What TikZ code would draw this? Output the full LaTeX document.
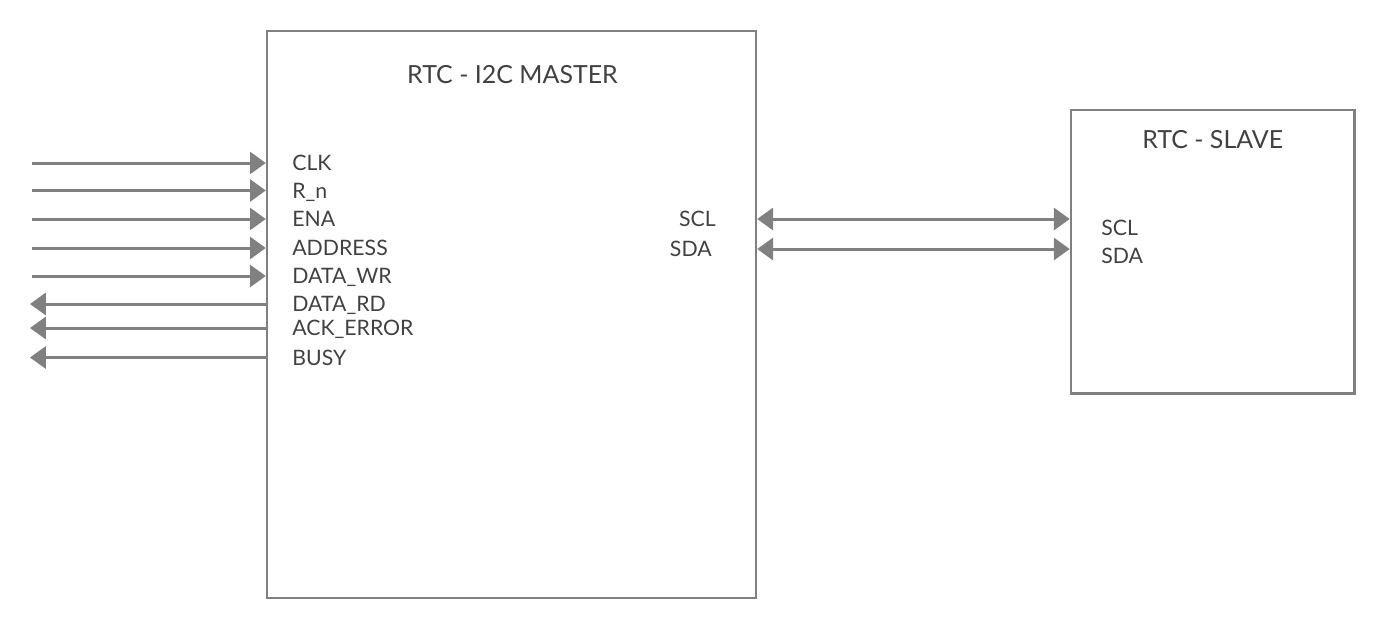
\documentclass[tikz,border=0pt]{standalone}
\usepackage{fontspec}
\setmainfont{Lato}
\usetikzlibrary{arrows.meta,positioning}

\definecolor{linegray}{HTML}{808080}
\definecolor{textgray}{HTML}{414141}

\tikzset{
  block/.style={draw=linegray, line width=1.4pt, inner sep=0pt},
  title/.style={text=textgray, font=\fontsize{14.2}{16}\selectfont, inner sep=0pt},
  pin/.style={text=textgray, font=\fontsize{12.1}{14}\selectfont, inner sep=0pt, text height=8.7pt, text depth=0pt},
  sig/.style={draw=linegray, line width=1.7pt, -{Triangle[length=9pt,width=12.5pt]}},
  bus/.style={draw=linegray, line width=1.7pt, {Triangle[length=9pt,width=12.5pt]}-{Triangle[length=9pt,width=12.5pt]}}
}

\begin{document}
\begin{tikzpicture}[x=0.02cm, y=-0.02cm]
  \useasboundingbox (0,0) rectangle (1386,630);

  % the two blocks
  \node[block, minimum width=9.78cm, minimum height=11.34cm] (master) at (511.5,314.5) {};
  \node[block, minimum width=5.67cm, minimum height=5.67cm] (slave) at (1212.7,251.7) {};
  \node[title] (master-title) at (512.5,75) {RTC - I2C MASTER};
  \node[title] (slave-title) at (1212.7,140) {RTC - SLAVE};

  % inputs of the master
  \foreach \name/\txt/\y in {clk/CLK/163, rn/R\_n/190.5, ena/ENA/219, addr/ADDRESS/248, wr/DATA\_WR/276} {
    \node[pin, anchor=west] (pin-\name) at (292,\y) {\txt};
    \coordinate (src-\name) at (32,\y);
    \draw[sig] (src-\name) -- (master.west |- pin-\name);
  }

  % outputs of the master
  \foreach \name/\txt/\y in {rd/DATA\_RD/304, ack/ACK\_ERROR/328, busy/BUSY/357.5} {
    \node[pin, anchor=west] (pin-\name) at (292,\y) {\txt};
    \coordinate (dst-\name) at (30,\y);
    \draw[sig] (master.west |- pin-\name) -- (dst-\name);
  }

  % i2c lines
  \node[pin, anchor=east] (mpin-scl) at (716,219) {SCL};
  \node[pin, anchor=east] (mpin-sda) at (712,249) {SDA};
  \node[pin, anchor=west] (spin-scl) at (1101,228) {SCL};
  \node[pin, anchor=west] (spin-sda) at (1101,256) {SDA};
  \draw[bus] (master.east |- mpin-scl) -- (slave.west |- mpin-scl);
  \draw[bus] (master.east |- mpin-sda) -- (slave.west |- mpin-sda);
\end{tikzpicture}
\end{document}
